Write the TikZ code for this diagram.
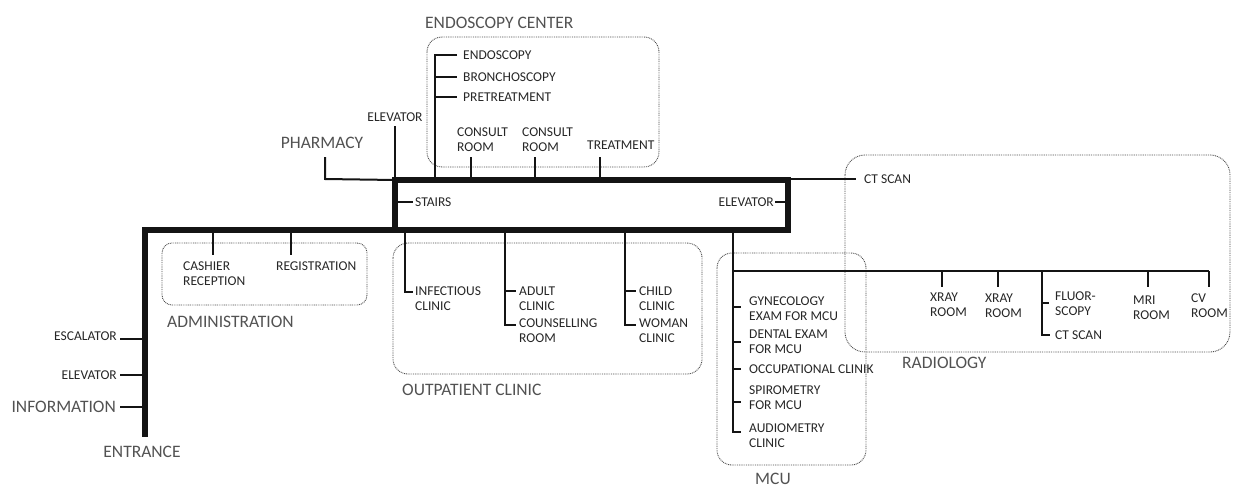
\documentclass[tikz,border=0pt]{standalone}
\usepackage{fontspec}
\setmainfont{Carlito}
\begin{document}
\begin{tikzpicture}[x=1pt,y=-1pt,
  lbl/.style={inner sep=0pt,anchor=north west,align=left,text=black!85,font=\fontsize{13.5}{15}\selectfont},
  big/.style={inner sep=0pt,text=black!68,font=\fontsize{17.5}{20}\selectfont},
  thick line/.style={line width=6pt,black!92,line join=miter},
  thin line/.style={line width=2pt,black!92},
  zone/.style={draw=black!70,line width=0.9pt,dash pattern=on 0.9pt off 0.9pt}]
\useasboundingbox (0,0) rectangle (1233,487);

% ---------- zones (dotted) ----------
\draw[zone,rounded corners=15pt] (427,37) rectangle (659,167);
\draw[zone,rounded corners=10pt] (162,243) rectangle (367,305);
\draw[zone,rounded corners=15pt] (393,243) rectangle (702,374);
\draw[zone,rounded corners=15pt] (717,253) rectangle (866,465);
\draw[zone,rounded corners=20pt] (845,155) rectangle (1230,352);

% ---------- coordinates ----------
\coordinate (bTL) at (395,180);
\coordinate (bBR) at (788,230);
\coordinate (bBL) at (395,230);
\coordinate (mC) at (145,230);
\coordinate (mE) at (145,437);

% ---------- labels (small) ----------
\node[lbl,anchor=center] (elevT) at (395,117) {ELEVATOR};
\node[lbl] (endo) at (463,50.6) {ENDOSCOPY};
\node[lbl] (bron) at (463,72.6) {BRONCHOSCOPY};
\node[lbl] (pret) at (463,92.6) {PRETREATMENT};
\node[lbl] (cons1) at (457,127.6) {CONSULT\\ROOM};
\node[lbl] (cons2) at (522,127.6) {CONSULT\\ROOM};
\node[lbl] (treat) at (587,140.6) {TREATMENT};
\node[lbl] (stairs) at (415,197.6) {STAIRS};
\node[lbl,anchor=north east] (elevR) at (774,197.6) {ELEVATOR};
\node[lbl] (ctTop) at (864,174.6) {CT SCAN};
\node[lbl] (cash) at (183,261.6) {CASHIER\\RECEPTION};
\node[lbl] (regi) at (276,261.6) {REGISTRATION};
\node[lbl,anchor=north east] (esc) at (117,331.6) {ESCALATOR};
\node[lbl,anchor=north east] (elevL) at (117,370.6) {ELEVATOR};
\node[lbl] (infc) at (415,286.6) {INFECTIOUS\\CLINIC};
\node[lbl] (adult) at (519,286.6) {ADULT\\CLINIC};
\node[lbl] (couns) at (519,318.6) {COUNSELLING\\ROOM};
\node[lbl] (child) at (639,286.6) {CHILD\\CLINIC};
\node[lbl] (woman) at (639,318.6) {WOMAN\\CLINIC};
\node[lbl] (gyn) at (749,296.6) {GYNECOLOGY\\EXAM FOR MCU};
\node[lbl] (dent) at (749,329.6) {DENTAL EXAM\\FOR MCU};
\node[lbl] (occ) at (749,364.6) {OCCUPATIONAL CLINIK};
\node[lbl] (spir) at (749,385.6) {SPIROMETRY\\FOR MCU};
\node[lbl] (audi) at (749,423.6) {AUDIOMETRY\\CLINIC};
\node[lbl] (xr1) at (930,292.6) {XRAY\\ROOM};
\node[lbl] (xr2) at (985,293.6) {XRAY\\ROOM};
\node[lbl] (fluo) at (1055,291.6) {FLUOR-\\SCOPY};
\node[lbl] (ctR) at (1055,330.6) {CT SCAN};
\node[lbl] (mri) at (1133,295.6) {MRI\\ROOM};
\node[lbl] (cv) at (1191,293.6) {CV\\ROOM};

% ---------- labels (large) ----------
\node[big,anchor=north west] (endoC) at (425,17.4) {ENDOSCOPY CENTER};
\node[big] (pharm) at (322,143) {PHARMACY};
\node[big,anchor=north west] (admin) at (167,316.4) {ADMINISTRATION};
\node[big,anchor=north east] (info) at (116,401.4) {INFORMATION};
\node[big] (entr) at (142,452) {ENTRANCE};
\node[big,anchor=north west] (outp) at (402,384.4) {OUTPATIENT CLINIC};
\node[big,anchor=north west] (radio) at (902,357.4) {RADIOLOGY};
\node[big,anchor=north west] (mcu) at (755,473.4) {MCU};

% ---------- thin connectors ----------
\draw[thin line] (elevT.south |- 0,126) -- (395,180);
\draw[thin line] (325,157) -- (325,179) -- (bTL);
\draw[thin line] (457,55) -- (435,55) -- (435,180);
\draw[thin line] (435,77) -- (457,77);
\draw[thin line] (435,97) -- (457,97);
\draw[thin line] (471,157) -- (471,180);
\draw[thin line] (535,157) -- (535,180);
\draw[thin line] (600,157) -- (600,180);
\draw[thin line] (395,202) -- (413,202);
\draw[thin line] (775,202) -- (788,202);
\draw[thin line] (788,179) -- (856,179);
\draw[thin line] (213,230) -- (213,255);
\draw[thin line] (291,230) -- (291,255);
\draw[thin line] (120,339) -- (145,339);
\draw[thin line] (120,375) -- (145,375);
\draw[thin line] (120,407) -- (145,407);
\draw[thin line] (405,230) -- (405,292) -- (413,292);
\draw[thin line] (505,230) -- (505,325) -- (516,325);
\draw[thin line] (505,291) -- (516,291);
\draw[thin line] (625,230) -- (625,325) -- (636,325);
\draw[thin line] (625,291) -- (636,291);
\draw[thin line] (733,230) -- (733,432) -- (741,432);
\foreach \yy in {307,342,369,402} \draw[thin line] (733,\yy) -- (741,\yy);
\draw[thin line] (733,271) -- (1209,271);
\foreach \xx in {942,998,1148,1209} \draw[thin line] (\xx,271) -- (\xx,287);
\draw[thin line] (1042,271) -- (1042,335) -- (1050,335);
\draw[thin line] (1042,303) -- (1049,303);

% ---------- thick spine ----------
\draw[thick line] (bTL) rectangle (bBR);
\draw[thick line] (bBL) -- (mC) -- (mE);
\end{tikzpicture}
\end{document}
